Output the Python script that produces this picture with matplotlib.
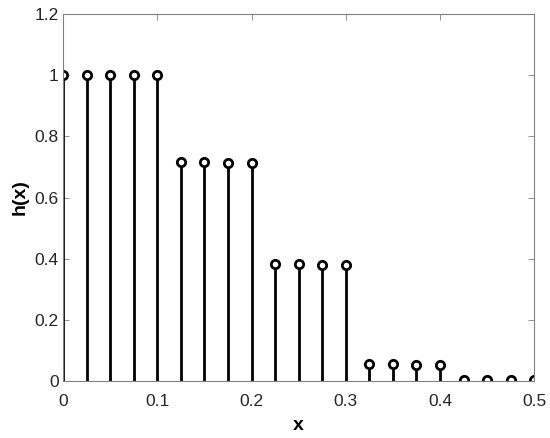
import matplotlib
matplotlib.use("Agg")
import matplotlib.pyplot as plt
import numpy as np

x = [0, 0.025, 0.05, 0.075, 0.1, 0.125, 0.15, 0.175, 0.2, 0.225, 0.25, 0.275, 0.3,
     0.325, 0.35, 0.375, 0.4, 0.425, 0.45, 0.475, 0.5]
h = [1, 1, 1, 1, 1, 0.716, 0.716, 0.714, 0.714, 0.382, 0.382, 0.381, 0.381,
     0.055, 0.055, 0.054, 0.054, 0.005, 0.005, 0.005, 0.005]
xticks = [0, 0.1, 0.2, 0.3, 0.4, 0.5]
yticks = [0, 0.2, 0.4, 0.6, 0.8, 1, 1.2]
xticklabels = ["0", "0.1", "0.2", "0.3", "0.4", "0.5"]
yticklabels = ["0", "0.2", "0.4", "0.6", "0.8", "1", "1.2"]

plt.rcParams['font.family'] = ['Liberation Sans', 'DejaVu Sans']

fig = plt.figure(figsize=(5.5, 4.38), dpi=100)
ax = fig.add_axes([0.1145, 0.130, 0.857, 0.838])

ml, sl, bl = ax.stem(x, h, basefmt=' ')
plt.setp(sl, color='black', linewidth=2)
plt.setp(ml, marker='o', markersize=6, markerfacecolor='white',
         markeredgecolor='black', markeredgewidth=2)

ax.set_xlim(0, 0.5)
ax.set_ylim(0, 1.2)
ax.set_xticks(xticks)
ax.set_xticklabels(xticklabels)
ax.set_yticks(yticks)
ax.set_yticklabels(yticklabels)
ax.tick_params(direction='in', top=True, right=True, labelsize=12.5,
               color='#808080', length=4, width=0.6, labelcolor='#262626')
ax.tick_params(axis='x', pad=9)
ax.tick_params(axis='y', pad=3)
for s in ax.spines.values():
    s.set_color('#808080')
    s.set_linewidth(0.8)
ax.set_xlabel('x', fontsize=14, fontweight='bold', labelpad=6)
ax.set_ylabel('h(x)', fontsize=14, fontweight='bold', labelpad=4)

fig.savefig('out.png', dpi=100)
